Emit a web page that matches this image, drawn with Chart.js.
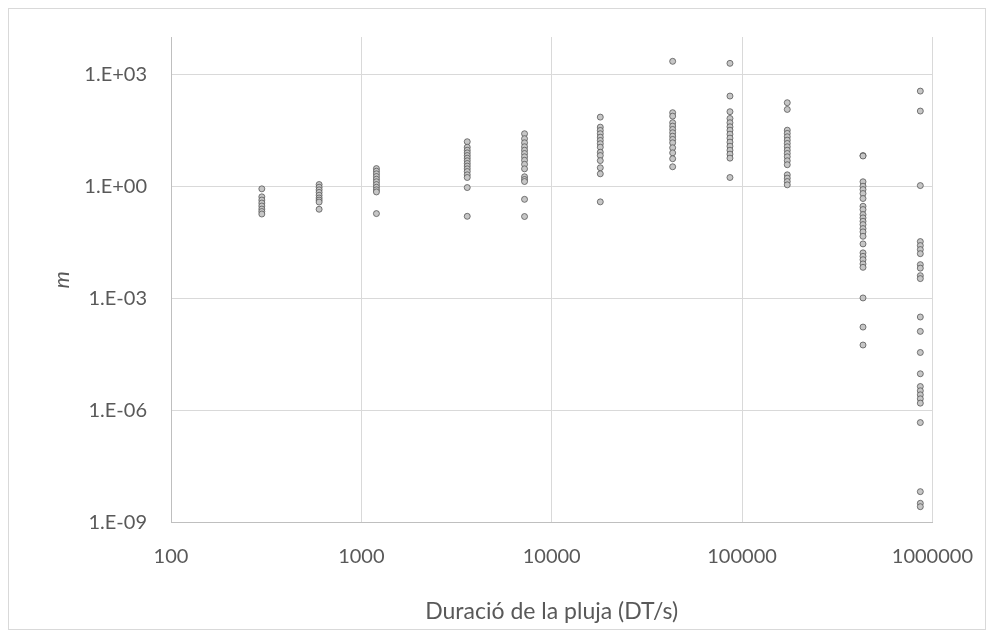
<!DOCTYPE html>
<html>
<head>
<meta charset="utf-8">
<script src="https://cdn.jsdelivr.net/npm/chart.js@4/dist/chart.umd.min.js"></script>
<style>
  html, body { margin: 0; padding: 0; background: #ffffff; }
  #frame { position: absolute; left: 8px; top: 8px; width: 978px; height: 622px; border: 1px solid #d9d9d9; box-sizing: border-box; }
  #c { position: absolute; left: 0; top: 0; }
</style>
</head>
<body>
<div id="frame"></div>
<canvas id="c" width="995" height="639"></canvas>
<script>
// Rain duration (s) for each group of samples
const durations = [300, 600, 1200, 3600, 7200, 18000, 43200, 86400, 172800, 432000, 864000];

// m values observed for each duration
const m300 = [0.86, 0.525, 0.43, 0.358, 0.298, 0.247, 0.212, 0.182];
const m600 = [1.12, 0.95, 0.81, 0.69, 0.58, 0.49, 0.43, 0.38, 0.244];
const m1200 = [3.0, 2.55, 2.17, 1.84, 1.56, 1.33, 1.12, 0.95, 0.81, 0.71, 0.187];
const m3600 = [15.7, 11.2, 9.3, 7.9, 6.7, 5.7, 4.85, 4.1, 3.5, 2.95, 2.5, 2.04, 1.73, 0.93, 0.158];
const m7200 = [25.7, 18.9, 14.7, 11.5, 9.3, 7.6, 6.2, 5.0, 3.9, 2.95, 1.81, 1.53, 1.35, 0.45, 0.156];
const m18000 = [71.6, 38.6, 31.5, 25.7, 20.8, 17.0, 13.9, 11.2, 8.2, 6.7, 4.9, 3.15, 2.17, 0.385];
const m43200 = [2233, 94, 76, 50.7, 41.1, 33.5, 27.3, 22.1, 18.1, 14.7, 10.8, 7.9, 5.5, 3.35];
const m86400 = [1972, 262, 100, 66, 50.7, 39.5, 32, 25, 19.6, 15.3, 11.9, 9.3, 7.3, 5.7, 1.73];
const m172800 = [174, 115, 32, 26.2, 21.3, 17.3, 14.1, 11.5, 9.3, 7.6, 6.2, 4.85, 3.8, 2.04, 1.66, 1.35, 1.10];
const m432000 = [6.7, 6.5, 1.33, 1.01, 0.824, 0.644, 0.473, 0.294, 0.24, 0.176, 0.1436, 0.1164, 0.095, 0.0742,
                 0.0605, 0.0461, 0.0288, 0.0166, 0.0134, 0.0109, 0.0084, 0.0068, 0.00103, 1.71e-4, 5.65e-5];
const m864000 = [356, 104, 1.05, 0.0333, 0.026, 0.0203, 0.0158, 0.00803, 0.00647, 0.00407, 0.00339,
                 3.18e-4, 1.31e-4, 3.57e-5, 9.6e-6, 4.38e-6, 3.36e-6, 2.62e-6, 2.05e-6, 1.57e-6,
                 4.74e-7, 6.7e-9, 3.27e-9, 2.65e-9];

const mByDuration = [m300, m600, m1200, m3600, m7200, m18000, m43200, m86400, m172800, m432000, m864000];

// Axis ticks
const xTicks = [100, 1000, 10000, 100000, 1000000];
const yTicks = [1e-9, 1e-6, 1e-3, 1, 1e3];

const points = [];
durations.forEach((d, i) => {
  mByDuration[i].forEach(v => points.push({ x: d, y: v }));
});

function sciLabel(v) {
  const e = Math.round(Math.log10(v));
  const sign = e < 0 ? '-' : '+';
  const abs = Math.abs(e);
  return '1.E' + sign + (abs < 10 ? '0' + abs : String(abs));
}

const textColor = '#595959';
const gridColor = '#d9d9d9';
const axisColor = '#bfbfbf';

new Chart(document.getElementById('c'), {
  type: 'scatter',
  data: {
    datasets: [{
      data: points,
      pointRadius: 3,
      pointHoverRadius: 3,
      pointBackgroundColor: '#c6c6c6',
      pointBorderColor: '#505050',
      pointBorderWidth: 0.75
    }]
  },
  options: {
    responsive: false,
    animation: false,
    devicePixelRatio: 1,
    layout: { padding: { top: 37, right: 62, left: 0, bottom: 0 } },
    plugins: { legend: { display: false }, tooltip: { enabled: false } },
    scales: {
      x: {
        type: 'logarithmic',
        min: 100,
        max: 1000000,
        afterBuildTicks: s => { s.ticks = xTicks.map(v => ({ value: v })); },
        afterFit: s => { s.height = 116.5; },
        grid: { color: gridColor, lineWidth: 1, drawTicks: false },
        border: { color: axisColor, width: 1 },
        ticks: {
          autoSkip: false, maxRotation: 0, padding: 22, color: textColor,
          font: { family: 'Lato', size: 20 },
          callback: v => String(v)
        },
        title: {
          display: true, text: 'Duració de la pluja (DT/s)', color: textColor,
          font: { family: 'Lato', size: 23 },
          padding: { top: 0, bottom: 14 }
        }
      },
      y: {
        type: 'logarithmic',
        min: 1e-9,
        max: 1e4,
        afterBuildTicks: s => { s.ticks = yTicks.map(v => ({ value: v })); },
        afterFit: s => { s.width = 171; },
        grid: { color: gridColor, lineWidth: 1, drawTicks: false },
        border: { color: axisColor, width: 1 },
        ticks: {
          autoSkip: false, padding: 24, color: textColor,
          font: { family: 'Lato', size: 20 },
          callback: v => sciLabel(v)
        },
        title: {
          display: true, text: 'm', color: textColor,
          font: { family: 'Lato', size: 22, style: 'italic' },
          padding: { top: 49, bottom: 0 }
        }
      }
    }
  }
});
</script>
</body>
</html>
